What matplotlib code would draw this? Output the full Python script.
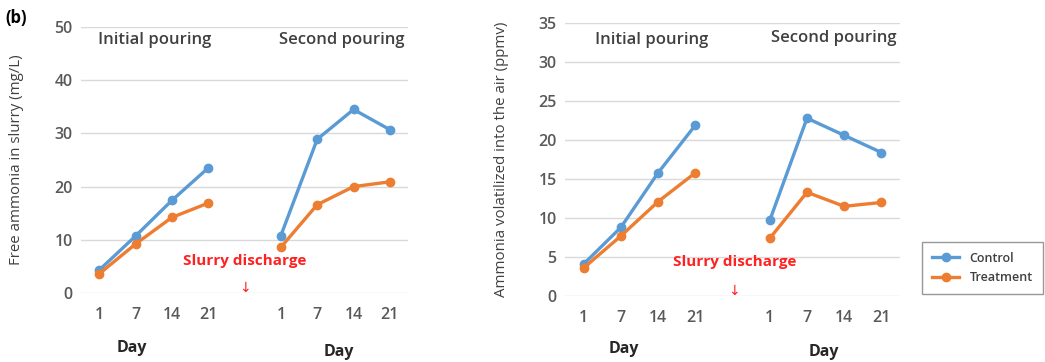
import matplotlib
matplotlib.use("Agg")
import matplotlib.pyplot as plt

# categorias no eixo x (um espaço vazio entre as duas aplicações)
days = ["1", "7", "14", "21"]

# painel esquerdo: amónia livre no chorume (mg/L)
slurry_control_1 = [4.3, 10.7, 17.4, 23.5]
slurry_control_2 = [10.8, 28.9, 34.5, 30.7]
slurry_treat_1 = [3.6, 9.2, 14.2, 16.9]
slurry_treat_2 = [8.6, 16.6, 20.0, 20.9]

# painel direito: amónia volatilizada no ar (ppmv)
air_control_1 = [4.1, 8.8, 15.8, 21.9]
air_control_2 = [9.7, 22.8, 20.6, 18.4]
air_treat_1 = [3.6, 7.7, 12.1, 15.8]
air_treat_2 = [7.4, 13.3, 11.5, 12.0]

blue = "#5B9BD5"
orange = "#ED7D31"
gray_txt = "#595959"

plt.rcParams["font.family"] = ["Open Sans", "DejaVu Sans"]

fig = plt.figure(figsize=(10.45, 3.62), dpi=100)
ax1 = fig.add_axes([0.0775, 0.1906, 0.313, 0.7348])
ax2 = fig.add_axes([0.5407, 0.1823, 0.3206, 0.754])

pos1 = [0, 1, 2, 3]
pos2 = [5, 6, 7, 8]


def draw_panel(ax, c1, c2, t1, t2, ymax, step, ylabel):
    ax.plot(pos1, c1, color=blue, lw=2.4, marker="o", ms=6, label="Control")
    ax.plot(pos2, c2, color=blue, lw=2.4, marker="o", ms=6)
    ax.plot(pos1, t1, color=orange, lw=2.4, marker="o", ms=6, label="Treatment")
    ax.plot(pos2, t2, color=orange, lw=2.4, marker="o", ms=6)

    ax.set_xlim(-0.5, 8.5)
    ax.set_ylim(0, ymax)
    ax.set_yticks(range(0, ymax + 1, step))
    ax.set_xticks(pos1 + pos2)
    ax.set_xticklabels(days + days)
    ax.grid(axis="y", color="#D9D9D9", lw=1)
    ax.set_axisbelow(True)
    for s in ax.spines.values():
        s.set_visible(False)
    ax.tick_params(axis="x", length=0, pad=10, labelsize=11.5, labelcolor=gray_txt)
    ax.tick_params(axis="y", length=0, pad=6, labelsize=11.5, labelcolor=gray_txt)
    for lb in ax.get_xticklabels() + ax.get_yticklabels():
        lb.set_fontweight("semibold")
    ax.set_ylabel(ylabel, fontsize=10.8, color="#404040")


draw_panel(ax1, slurry_control_1, slurry_control_2, slurry_treat_1, slurry_treat_2,
           50, 10, "Free ammonia in slurry (mg/L)")
draw_panel(ax2, air_control_1, air_control_2, air_treat_1, air_treat_2,
           35, 5, "Ammonia volatilized into the air (ppmv)")
ax1.yaxis.set_label_coords(-0.174, 0.5)
ax2.yaxis.set_label_coords(-0.167, 0.5)

hdr = dict(fontsize=12, color="#404040", fontweight="semibold", ha="center", va="center")
ax1.text(1.53, 47.6, "Initial pouring", **hdr)
ax1.text(6.68, 47.6, "Second pouring", **hdr)
ax2.text(1.82, 32.8, "Initial pouring", **hdr)
ax2.text(6.73, 33.1, "Second pouring", **hdr)

red = dict(color="#FF2020", ha="center", va="center")
ax1.text(4.0, 6.0, "Slurry discharge", fontsize=11, fontweight="bold", **red)
ax1.text(4.0, 0.8, "↓", fontsize=10, **red)
ax2.text(4.05, 4.36, "Slurry discharge", fontsize=11, fontweight="bold", **red)
ax2.text(4.05, 0.6, "↓", fontsize=10, **red)

day = dict(fontsize=11.5, fontweight="bold", color="#262626", ha="center", va="center")
ax1.text(0.9, -0.207, "Day", transform=ax1.get_xaxis_transform(), **day)
ax1.text(6.6, -0.222, "Day", transform=ax1.get_xaxis_transform(), **day)
ax2.text(1.07, -0.194, "Day", transform=ax2.get_xaxis_transform(), **day)
ax2.text(6.46, -0.205, "Day", transform=ax2.get_xaxis_transform(), **day)

fig.text(0.005, 0.95, "(b)", fontsize=12, fontweight="bold", color="black", va="center")

handles, labels = ax1.get_legend_handles_labels()
leg = fig.legend(handles, labels, loc="center", bbox_to_anchor=(0.94, 0.26),
                 frameon=True, fancybox=False, handlelength=2.2,
                 borderpad=0.8, labelspacing=0.5, labelcolor="#404040",
                 prop={"weight": "semibold", "size": 9})
leg.get_frame().set_edgecolor("#7F7F7F")
leg.get_frame().set_linewidth(1)

fig.savefig("out.png", dpi=100)
